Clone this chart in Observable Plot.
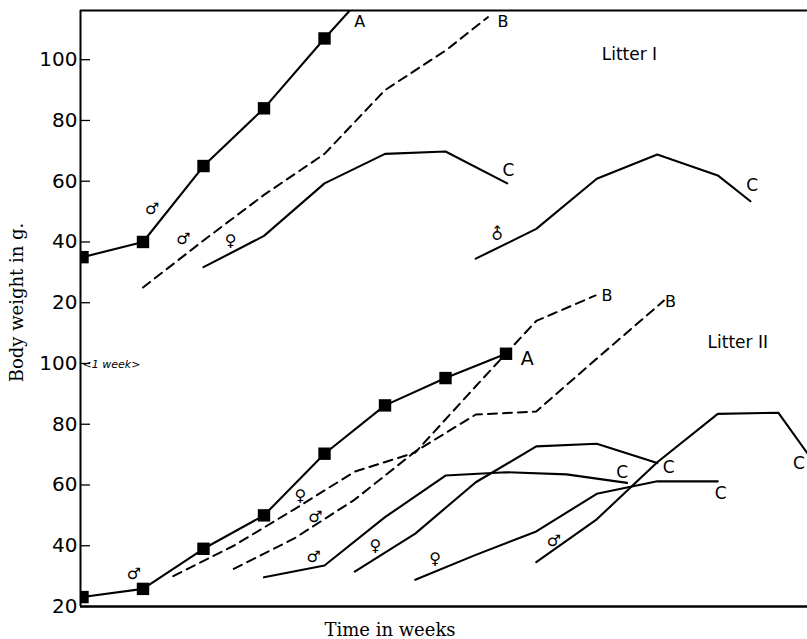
<!DOCTYPE html>
<html>
<head>
<meta charset="utf-8">
<script src="https://cdn.jsdelivr.net/npm/d3@7"></script>
<script src="https://cdn.jsdelivr.net/npm/@observablehq/plot@0.6"></script>
<style>
  html, body { margin: 0; padding: 0; background: #fff; }
  #chart svg { display: block; }
</style>
</head>
<body>
<div id="chart"></div>
<script>
// ---- Data (body weight in g vs. time in weeks) ----
// Litter I is drawn in the upper half: its values are shifted up by 100 g on the shared axis.
const litterOffset = 100;

// Litter I
const I_A_weeks = [0, 1, 2, 3, 4, 5];
const I_A_grams = [35, 40, 65, 84, 107, 129];
const I_B_weeks = [1, 2, 3, 4, 5, 6, 6.7];
const I_B_grams = [25, 40.5, 55.5, 69, 90, 103, 114];
const I_C1_weeks = [2, 3, 4, 5, 6, 7.02];
const I_C1_grams = [31.7, 42, 59.3, 69, 69.8, 59.3];
const I_C2_weeks = [6.5, 7.5, 8.5, 9.5, 10.5, 11.04];
const I_C2_grams = [34.5, 44.3, 60.8, 68.8, 61.9, 53.4];

// Litter II
const II_A_weeks = [0, 1, 2, 3, 4, 5, 6, 7];
const II_A_grams = [23.1, 25.8, 39, 50, 70.3, 86.2, 95.2, 103.2];
const II_B1_weeks = [1.5, 2.5, 3.5, 4.5, 5.5, 6.5, 7.5, 8.48];
const II_B1_grams = [30, 40, 52, 64.4, 70.7, 92.5, 114, 122.4];
const II_B2_weeks = [2.5, 3.5, 4.5, 5.5, 6.5, 7.5, 8.5, 9.61];
const II_B2_grams = [32.4, 42.4, 55.2, 71, 83.2, 84.2, 101.6, 120.7];
const II_C1_weeks = [3, 4, 5, 6, 7, 8, 9];
const II_C1_grams = [29.6, 33.5, 49.4, 63.1, 64.2, 63.5, 60.7];
const II_C2_weeks = [4.5, 5.5, 6.5, 7.5, 8.5, 9.5];
const II_C2_grams = [31.5, 44, 60.9, 72.7, 73.6, 67.2];
const II_C3_weeks = [5.5, 6.5, 7.5, 8.5, 9.5, 10.5];
const II_C3_grams = [28.8, 37, 44.7, 57.1, 61.2, 61.2];
const II_C4_weeks = [7.5, 8.5, 9.5, 10.5, 11.5, 12.5];
const II_C4_grams = [34.6, 48.7, 67.5, 83.4, 83.8, 56];

// Curve letters
const letterText   = ["A", "B", "C", "C", "A", "B", "B", "C", "C", "C", "C"];
const letterLitter = ["I", "I", "I", "I", "II", "II", "II", "II", "II", "II", "II"];
const letterWeek   = [4.58, 6.95, 7.04, 11.07, 7.35, 8.67, 9.72, 8.92, 9.69, 10.55, 11.84];
const letterGrams  = [112.6, 112.4, 63.5, 58.6, 101.5, 122.4, 120.2, 64.2, 65.9, 57.1, 67];
const letterSize   = [16, 16, 17, 17, 19, 16, 16, 17, 17, 17, 17];

// Sex symbols
const sexText   = ["♂", "♂", "♀", "♂", "♀", "♂", "♂", "♀", "♀", "♂"];
const sexLitter = ["I", "I", "I", "II", "II", "II", "II", "II", "II", "II"];
const sexWeek   = [1.15, 1.67, 2.45, 0.85, 3.6, 3.85, 3.82, 4.84, 5.83, 7.79];
const sexGrams  = [50.9, 41.1, 40.5, 30.8, 56.5, 49.4, 36.2, 40.1, 35.7, 41.7];
// male symbol with the arrow pointing straight up (Litter I, right-hand curve)
const upMaleWeek = [6.86];
const upMaleGrams = [42.7];

// Litter titles
const litterTitle = ["Litter I", "Litter II"];
const litterTitleLitter = ["I", "II"];
const litterTitleWeek = [9.04, 10.83];
const litterTitleGrams = [101.7, 107];

// Axis
const yTickValues = [20, 40, 60, 80, 100, 120, 140, 160, 180, 200];
const xDomain = [-0.033, 11.983];
const yDomain = [20, 216.2];
const weekBar = ["<1 week>"];
const weekBarWeek = [0.48];
const weekBarGrams = [99.7];

// ---- Build tables ----
const shift = (litter, g) => g + (litter === "I" ? litterOffset : 0);
function series(id, litter, weeks, grams) {
  return weeks.map((w, i) => ({id, week: w, y: shift(litter, grams[i])}));
}
const solid = [
  ...series("IA", "I", I_A_weeks, I_A_grams),
  ...series("IC1", "I", I_C1_weeks, I_C1_grams),
  ...series("IC2", "I", I_C2_weeks, I_C2_grams),
  ...series("IIA", "II", II_A_weeks, II_A_grams),
  ...series("IIC1", "II", II_C1_weeks, II_C1_grams),
  ...series("IIC2", "II", II_C2_weeks, II_C2_grams),
  ...series("IIC3", "II", II_C3_weeks, II_C3_grams),
  ...series("IIC4", "II", II_C4_weeks, II_C4_grams)
];
const dashed = [
  ...series("IB", "I", I_B_weeks, I_B_grams),
  ...series("IIB1", "II", II_B1_weeks, II_B1_grams),
  ...series("IIB2", "II", II_B2_weeks, II_B2_grams)
];
const squares = [
  ...series("IA", "I", I_A_weeks, I_A_grams),
  ...series("IIA", "II", II_A_weeks, II_A_grams)
];
const letters = letterText.map((t, i) => ({t, week: letterWeek[i], y: shift(letterLitter[i], letterGrams[i]), s: letterSize[i]}));
const sexes = sexText.map((t, i) => ({t, week: sexWeek[i], y: shift(sexLitter[i], sexGrams[i])}));
const upMale = upMaleWeek.map((w, i) => ({t: "♂", week: w, y: shift("I", upMaleGrams[i])}));
const titles = litterTitle.map((t, i) => ({t, week: litterTitleWeek[i], y: shift(litterTitleLitter[i], litterTitleGrams[i])}));
const weekNote = weekBar.map((t, i) => ({t, week: weekBarWeek[i], y: weekBarGrams[i]}));
const tickLabel = d => String(d > 110 ? d - litterOffset : d);

const chart = Plot.plot({
  width: 807,
  height: 639,
  marginLeft: 80,
  marginRight: 0,
  marginTop: 10,
  marginBottom: 33,
  style: {background: "#fff", color: "#000", fontFamily: "DejaVu Sans, sans-serif"},
  x: {domain: xDomain, axis: null},
  y: {domain: yDomain, axis: null},
  marks: [
    // frame: left, top, bottom
    Plot.ruleX([xDomain[0]], {stroke: "#000", strokeWidth: 2}),
    Plot.ruleY([yDomain[1]], {stroke: "#000", strokeWidth: 1.8}),
    Plot.ruleY([yDomain[0]], {stroke: "#000", strokeWidth: 2.4}),
    // inward tick marks
    Plot.axisY({ticks: yTickValues, tickSize: 10, dx: 10, tickFormat: () => "", strokeWidth: 1.3, label: null}),
    // tick labels
    Plot.text(yTickValues, {y: d => d, frameAnchor: "left", textAnchor: "end", dx: -3, text: tickLabel, fontSize: 20, fill: "#000"}),
    Plot.line(solid, {x: "week", y: "y", z: "id", stroke: "#000", strokeWidth: 2.1, clip: true}),
    Plot.line(dashed, {x: "week", y: "y", z: "id", stroke: "#000", strokeWidth: 2, strokeDasharray: "9,6", clip: true}),
    Plot.dot(squares, {x: "week", y: "y", symbol: "square", r: 7, fill: "#000", stroke: "none", clip: true}),
    Plot.text(letters, {x: "week", y: "y", text: "t", fontSize: d => d.s, fill: "#000"}),
    Plot.text(sexes, {x: "week", y: "y", text: "t", fontSize: 16, fill: "#000"}),
    Plot.text(upMale, {x: "week", y: "y", text: "t", fontSize: 16, rotate: -45, fill: "#000"}),
    Plot.text(titles, {x: "week", y: "y", text: "t", fontSize: 17, fill: "#000"}),
    Plot.text(weekNote, {x: "week", y: "y", text: "t", fontSize: 11, fontStyle: "italic", fill: "#000"}),
    Plot.text(["Body weight in g."], {frameAnchor: "left", textAnchor: "middle", dx: -63, dy: -6, rotate: -90, fontSize: 18, fontFamily: "DejaVu Serif, serif", fill: "#000"}),
    Plot.text(["Time in weeks"], {frameAnchor: "bottom", textAnchor: "middle", lineAnchor: "middle", dx: -54, dy: 24, fontSize: 18, fontFamily: "DejaVu Serif, serif", fill: "#000"})
  ]
});
document.getElementById("chart").appendChild(chart);
</script>
</body>
</html>
